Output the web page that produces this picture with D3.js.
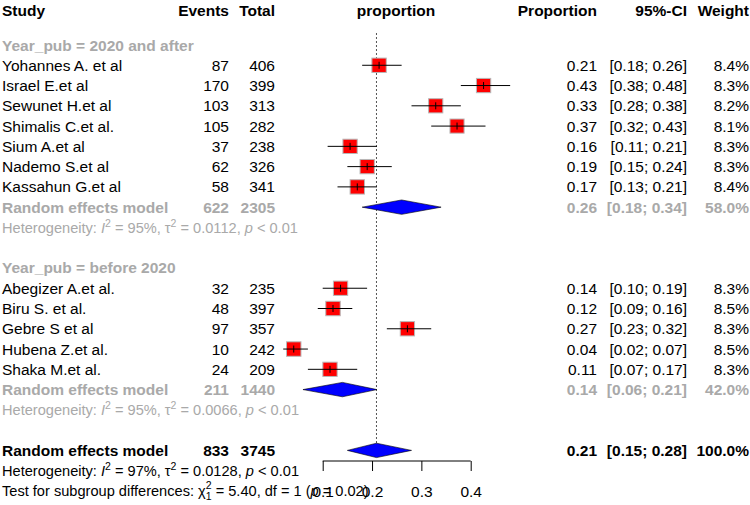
<!DOCTYPE html>
<meta charset="utf-8">
<title>Forest plot of proportion by year of publication</title>
<style>
body { margin: 0; background: #fff; }
svg text { font-family: "Liberation Sans", Arial, sans-serif; font-size: 15.5px; }
</style>
<div id="my_dataviz"></div>
<script src="https://d3js.org/d3.v7.min.js"></script>
<script>

// ---- data ----
var group1Studies = ["Yohannes A. et al", "Israel E.et al", "Sewunet H.et al", "Shimalis C.et al.", "Sium A.et al", "Nademo S.et al", "Kassahun G.et al"];
var group1Events  = [87, 170, 103, 105, 37, 62, 58];
var group1Total   = [406, 399, 313, 282, 238, 326, 341];
var group1Est     = [0.2143, 0.4261, 0.3291, 0.3723, 0.1555, 0.1902, 0.1701];
var group1Lower   = [0.18, 0.38, 0.28, 0.32, 0.11, 0.15, 0.13];
var group1Upper   = [0.26, 0.48, 0.38, 0.43, 0.21, 0.24, 0.21];
var group1Weight  = [8.4, 8.3, 8.2, 8.1, 8.3, 8.3, 8.4];

var group2Studies = ["Abegizer A.et al.", "Biru S. et al.", "Gebre S et al", "Hubena Z.et al.", "Shaka M.et al."];
var group2Events  = [32, 48, 97, 10, 24];
var group2Total   = [235, 397, 357, 242, 209];
var group2Est     = [0.1362, 0.1209, 0.2717, 0.0413, 0.1148];
var group2Lower   = [0.10, 0.09, 0.23, 0.02, 0.07];
var group2Upper   = [0.19, 0.16, 0.32, 0.07, 0.17];
var group2Weight  = [8.3, 8.5, 8.3, 8.5, 8.3];

// pooled: [events, total, est, lower, upper, weight]
var group1Pooled  = [622, 2305, 0.26, 0.18, 0.34, 58.0];
var group2Pooled  = [211, 1440, 0.14, 0.06, 0.21, 42.0];
var overallPooled = [833, 3745, 0.209, 0.15, 0.28, 100.0];

// heterogeneity: [I2, tau2, p]
var group1Het  = ["95%", "0.0112", "< 0.01"];
var group2Het  = ["95%", "0.0066", "< 0.01"];
var overallHet = ["97%", "0.0128", "< 0.01"];
var subgroupTest = ["5.40", "1", "0.02"];

var groupLabels = ["Year_pub = 2020 and after", "Year_pub = before 2020"];
var axisTicks = [0.1, 0.2, 0.3, 0.4];

// ---- layout ----
var width = 750, height = 505;
var gray = "#a9a9a9";
var rowH = 20.27, row0 = 45;
function rowY(i) { return row0 + i * rowH; }
var base = 5.5; // baseline offset from row centre

var colStudy = 2, colEvents = 229, colTotal = 275, colProp = 597, colCI = 687, colW = 749;

var svg = d3.select("#my_dataviz")
  .append("svg")
    .attr("width", width)
    .attr("height", height);

var x = d3.scaleLinear()
  .domain([0.1, 0.4])
  .range([322.7, 470.7]);

function fmt2(v) { return d3.format(".2f")(v); }
function ciText(l, u) { return "[" + fmt2(l) + "; " + fmt2(u) + "]"; }
function wText(w) { return d3.format(".1f")(w) + "%"; }

function addText(txt, xx, yy, anchor, color, bold) {
  return svg.append("text")
    .attr("x", xx)
    .attr("y", yy + base)
    .attr("text-anchor", anchor)
    .style("fill", color)
    .style("font-weight", bold ? "bold" : "normal")
    .text(txt);
}

// headers
var headY = 10;
addText("Study", colStudy, headY, "start", "#000", true);
addText("Events", colEvents, headY, "end", "#000", true);
addText("Total", colTotal, headY, "end", "#000", true);
addText("proportion", 396, headY, "middle", "#000", true);
addText("Proportion", colProp, headY, "end", "#000", true);
addText("95%-CI", colCI, headY, "end", "#000", true);
addText("Weight", colW, headY, "end", "#000", true);

// reference line at the overall estimate
svg.append("line")
  .attr("x1", x(overallPooled[2])).attr("x2", x(overallPooled[2]))
  .attr("y1", 33).attr("y2", 443)
  .attr("stroke", "#555")
  .attr("stroke-width", 1)
  .attr("stroke-dasharray", "2,2");

function drawStudies(names, ev, tot, est, lo, up, wt, startRow) {
  var rows = names.map(function(n, i) {
    return {name: n, ev: ev[i], tot: tot[i], est: est[i], lo: lo[i], up: up[i], w: wt[i], y: rowY(startRow + i)};
  });
  rows.forEach(function(d) {
    addText(d.name, colStudy, d.y, "start", "#000", false);
    addText(d.ev, colEvents, d.y, "end", "#000", false);
    addText(d.tot, colTotal, d.y, "end", "#000", false);
    addText(fmt2(d.est), colProp, d.y, "end", "#000", false);
    addText(ciText(d.lo, d.up), colCI, d.y, "end", "#000", false);
    addText(wText(d.w), colW, d.y, "end", "#000", false);
  });
  svg.append("g").selectAll("rect")
    .data(rows)
    .enter()
    .append("rect")
      .attr("x", function(d) { return x(d.est) - 4.96 * Math.sqrt(d.w) / 2; })
      .attr("y", function(d) { return d.y - 4.96 * Math.sqrt(d.w) / 2; })
      .attr("width", function(d) { return 4.96 * Math.sqrt(d.w); })
      .attr("height", function(d) { return 4.96 * Math.sqrt(d.w); })
      .style("fill", "#ff0000")
      .style("stroke", "#b8b8b8")
      .style("stroke-width", 1);
  svg.append("g").selectAll("line")
    .data(rows)
    .enter()
    .append("line")
      .attr("x1", function(d) { return x(d.lo); })
      .attr("x2", function(d) { return x(d.up); })
      .attr("y1", function(d) { return d.y; })
      .attr("y2", function(d) { return d.y; })
      .attr("stroke", "#000")
      .attr("stroke-width", 1);
  svg.append("g").selectAll("line")
    .data(rows)
    .enter()
    .append("line")
      .attr("x1", function(d) { return x(d.est); })
      .attr("x2", function(d) { return x(d.est); })
      .attr("y1", function(d) { return d.y - 3.5; })
      .attr("y2", function(d) { return d.y + 3.5; })
      .attr("stroke", "#000")
      .attr("stroke-width", 1);
}

function drawPooled(p, rowIdx, color) {
  var y = rowY(rowIdx);
  addText("Random effects model", colStudy, y, "start", color, true);
  addText(p[0], colEvents, y, "end", color, true);
  addText(p[1], colTotal, y, "end", color, true);
  addText(fmt2(p[2]), colProp, y, "end", color, true);
  addText(ciText(p[3], p[4]), colCI, y, "end", color, true);
  addText(wText(p[5]), colW, y, "end", color, true);
  var h = 7.2;
  svg.append("path")
    .attr("d", d3.line()([[x(p[3]), y], [x(p[2]), y - h], [x(p[4]), y], [x(p[2]), y + h]]) + "Z")
    .style("fill", "#0000ff")
    .style("stroke", "#000")
    .style("stroke-width", 0.6);
}

function drawHet(h, rowIdx, color) {
  var t = svg.append("text")
    .attr("x", colStudy)
    .attr("y", rowY(rowIdx) + base)
    .style("fill", color)
    .style("font-size", "14.6px");
  t.append("tspan").text("Heterogeneity: ");
  t.append("tspan").style("font-style", "italic").text("I");
  t.append("tspan").attr("dy", -6).style("font-size", "10.5px").text("2");
  t.append("tspan").attr("dy", 6).text(" = " + h[0] + ", \u03c4");
  t.append("tspan").attr("dy", -6).style("font-size", "10.5px").text("2");
  t.append("tspan").attr("dy", 6).text(" = " + h[1] + ", ");
  t.append("tspan").style("font-style", "italic").text("p");
  t.append("tspan").text(" " + h[2]);
}

// subgroup 1
addText(groupLabels[0], colStudy, rowY(0), "start", gray, true);
drawStudies(group1Studies, group1Events, group1Total, group1Est, group1Lower, group1Upper, group1Weight, 1);
drawPooled(group1Pooled, 8, gray);
drawHet(group1Het, 9, gray);

// subgroup 2
addText(groupLabels[1], colStudy, rowY(11), "start", gray, true);
drawStudies(group2Studies, group2Events, group2Total, group2Est, group2Lower, group2Upper, group2Weight, 12);
drawPooled(group2Pooled, 17, gray);
drawHet(group2Het, 18, gray);

// overall
drawPooled(overallPooled, 20, "#000");
drawHet(overallHet, 21, "#000");

var tt = svg.append("text")
  .attr("x", colStudy)
  .attr("y", rowY(22) + base)
  .style("fill", "#000")
  .style("font-size", "14.6px");
tt.append("tspan").text("Test for subgroup differences: \u03c7");
tt.append("tspan").attr("dy", -7).style("font-size", "10.5px").text("2");
tt.append("tspan").attr("dx", -5.8).attr("dy", 11).style("font-size", "10.5px").text("1");
tt.append("tspan").attr("dy", -4).text(" = " + subgroupTest[0] + ", df = " + subgroupTest[1] + " (");
tt.append("tspan").style("font-style", "italic").text("p");
tt.append("tspan").text(" = " + subgroupTest[2] + ")");

// x axis
var axisG = svg.append("g")
  .attr("transform", "translate(0,461)")
  .call(d3.axisBottom(x).tickValues(axisTicks).tickSize(10).tickPadding(15).tickFormat(d3.format(".1f")));
axisG.select(".domain").attr("d", "M" + x(0.1) + ",0H" + x(0.4)).attr("stroke", "#000");
axisG.selectAll(".tick line").attr("stroke", "#000");
axisG.selectAll(".tick text")
  .style("font-family", "\"Liberation Sans\", Arial, sans-serif")
  .style("font-size", "15.5px")
  .attr("fill", "#000");

</script>
